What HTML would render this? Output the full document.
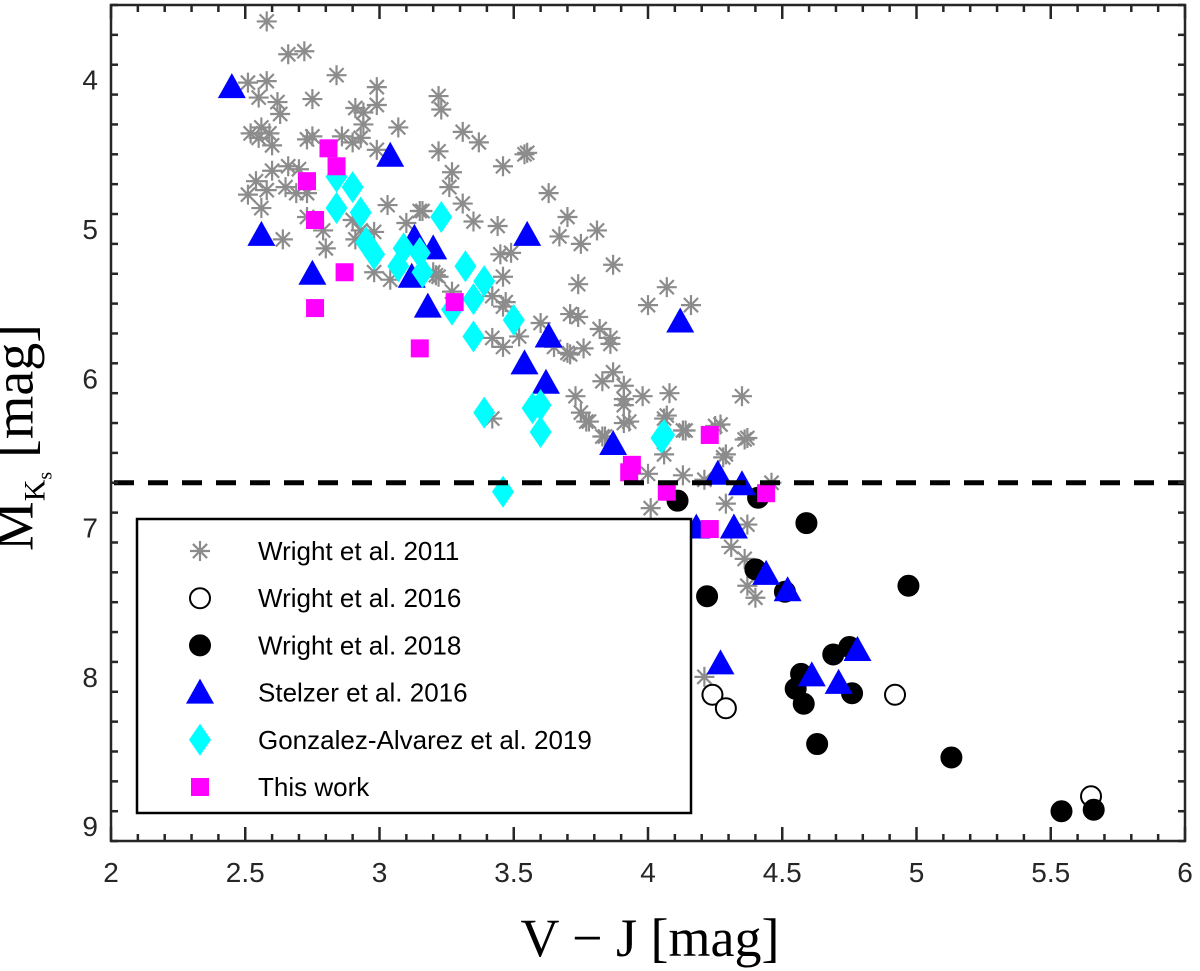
<!DOCTYPE html>
<html><head><meta charset="utf-8"><style>
html,body{margin:0;padding:0;background:#fff;}
svg{display:block;font-family:"Liberation Sans",sans-serif;}
</style></head><body>
<svg id="chart" width="1200" height="971" viewBox="0 0 1200 971">
<g id="marks"></g>
<g id="axes"></g>
</svg>
<script>
// ---- data ----
const w2011X=[2.58,2.66,2.72,2.51,2.58,2.84,2.55,2.62,2.75,2.63,2.99,2.99,3.22,2.91,2.94,2.94,3.07,2.52,2.56,2.55,2.59,2.60,2.75,2.73,2.86,2.90,2.93,2.99,3.31,3.37,3.22,3.54,2.66,2.70,2.60,3.27,3.26,2.54,2.58,2.51,2.65,2.69,2.73,2.56,3.03,3.16,3.10,3.35,3.44,2.73,2.79,2.64,2.90,2.93,2.98,2.80,2.91,3.04,2.98,3.20,3.45,3.49,3.47,3.23,3.46,3.55,3.63,3.31,3.70,3.67,3.75,3.81,3.87,3.74,4.07,4.00,4.16,3.46,3.71,3.74,3.82,3.86,3.86,3.76,3.71,3.60,3.52,3.42,3.46,3.22,3.83,3.87,3.91,3.91,3.98,4.08,4.35,3.73,3.75,3.78,3.93,4.07,4.14,4.27,4.37,4.29,3.84,3.42,3.15,3.21,3.27,3.42,3.46,3.70,3.65,3.91,4.06,4.13,4.36,4.28,4.25,3.77,3.83,4.06,4.00,4.13,4.21,4.46,4.01,4.29,4.37,4.31,4.36,4.37,4.40,4.21,3.91];
const w2011Y=[3.61,3.83,3.81,4.02,4.01,3.97,4.12,4.15,4.13,4.23,4.05,4.17,4.11,4.19,4.22,4.30,4.32,4.36,4.32,4.39,4.36,4.44,4.38,4.40,4.38,4.42,4.39,4.47,4.35,4.42,4.48,4.50,4.58,4.60,4.61,4.62,4.72,4.68,4.74,4.77,4.72,4.76,4.76,4.86,4.84,4.88,4.96,4.95,4.98,4.92,5.01,5.07,4.94,5.01,5.02,5.13,5.07,5.34,5.29,5.29,5.17,5.16,5.49,4.20,4.58,4.49,4.76,4.83,4.92,5.05,5.10,5.01,5.24,5.37,5.39,5.51,5.51,5.32,5.57,5.59,5.67,5.73,5.77,5.80,5.84,5.63,5.72,5.73,5.79,5.32,6.02,5.96,6.05,6.14,6.12,6.10,6.12,6.12,6.23,6.29,6.29,6.25,6.35,6.31,6.40,6.51,6.39,6.27,4.88,5.31,5.42,5.45,5.52,5.83,5.79,6.30,6.27,6.35,6.41,6.53,6.32,6.29,6.39,6.51,6.64,6.65,6.68,6.70,6.87,6.84,6.98,7.13,7.21,7.39,7.47,8.00,6.18];
const w2016X=[4.24,4.29,4.92,5.65];
const w2016Y=[8.12,8.21,8.12,8.80];
const w2018X=[4.11,4.41,4.59,4.40,4.22,4.51,4.97,4.69,4.75,4.57,4.55,4.58,4.76,4.63,5.13,5.54,5.66];
const w2018Y=[6.82,6.80,6.97,7.28,7.46,7.43,7.39,7.85,7.80,7.98,8.08,8.18,8.11,8.45,8.54,8.90,8.89];
const stX=[2.45,3.04,2.56,2.75,3.13,3.20,3.12,3.18,3.55,3.63,3.54,3.62,4.12,3.87,4.26,4.35,4.18,4.32,4.44,4.52,4.27,4.61,4.71,4.78];
const stY=[4.05,4.51,5.04,5.30,5.06,5.13,5.32,5.52,5.04,5.72,5.90,6.03,5.62,6.44,6.64,6.71,7.00,7.00,7.31,7.42,7.91,7.99,8.04,7.82];
const gaX=[2.84,2.90,2.84,2.93,2.95,2.98,3.09,3.07,3.23,3.32,3.39,3.35,3.50,3.27,3.35,3.39,3.57,3.60,3.60,4.06,3.46,3.16,3.15,4.05];
const gaY=[4.65,4.72,4.86,4.89,5.09,5.17,5.13,5.25,4.92,5.25,5.35,5.47,5.61,5.54,5.72,6.23,6.20,6.18,6.36,6.38,6.76,5.29,5.16,6.40];
const twX=[2.81,2.84,2.73,2.76,2.87,2.76,3.28,3.15,4.23,3.94,3.93,4.07,4.44,4.23];
const twY=[4.46,4.58,4.68,4.94,5.29,5.53,5.49,5.80,6.38,6.58,6.63,6.76,6.77,7.01];
const xTicks=[2,2.5,3,3.5,4,4.5,5,5.5,6];
const xTickLabels=["2","2.5","3","3.5","4","4.5","5","5.5","6"];
const yTicks=[4,5,6,7,8,9];
const yTickLabels=["4","5","6","7","8","9"];
const cutoff=6.70;
const legendLabels=["Wright et al. 2011","Wright et al. 2016","Wright et al. 2018","Stelzer et al. 2016","Gonzalez-Alvarez et al. 2019","This work"];

const L=111,R=1185,T=5,B=841;
const sx=v=>L+(v-2)*(R-L)/4;
const sy=v=>T+(v-3.5)*149.3;
const NS="http://www.w3.org/2000/svg";
function mk(tag,attrs,parent){const e=document.createElementNS(NS,tag);for(const k in attrs)e.setAttribute(k,attrs[k]);parent.appendChild(e);return e;}
const marks=document.getElementById('marks'),axes=document.getElementById('axes');

function star(g,cx,cy){const s=mk('g',{stroke:'#8c8c8c','stroke-width':2.2},g);const r=10;
 for(let a=0;a<4;a++){const t=a*Math.PI/4;mk('line',{x1:cx-r*Math.cos(t),y1:cy-r*Math.sin(t),x2:cx+r*Math.cos(t),y2:cy+r*Math.sin(t)},s);}return s;}
function circ(g,cx,cy,fill){return mk('circle',{cx,cy,r:10,fill:fill,stroke:'#000','stroke-width':2},g);}
function tri(g,cx,cy){return mk('polygon',{points:`${cx},${cy-14} ${cx-14},${cy+11} ${cx+14},${cy+11}`,fill:'#0000ff'},g);}
function dia(g,cx,cy){return mk('polygon',{points:`${cx},${cy-16} ${cx+11},${cy} ${cx},${cy+16} ${cx-11},${cy}`,fill:'#00ffff'},g);}
function sq(g,cx,cy){return mk('rect',{x:cx-9,y:cy-9,width:18,height:18,fill:'#ff00ff'},g);}

const gS=mk('g',{},marks);


w2011X.forEach((v,i)=>{const e=star(gS,sx(v),sy(w2011Y[i]));

});
const gO=mk('g',{},marks);


w2016X.forEach((v,i)=>{const e=circ(gO,sx(v),sy(w2016Y[i]),'#fff');

});
const gB=mk('g',{},marks);


w2018X.forEach((v,i)=>{const e=circ(gB,sx(v),sy(w2018Y[i]),'#000');

});
const gT=mk('g',{},marks);


stX.forEach((v,i)=>{const e=tri(gT,sx(v),sy(stY[i]));

});
const gD=mk('g',{},marks);


gaX.forEach((v,i)=>{const e=dia(gD,sx(v),sy(gaY[i]));

});
const gQ=mk('g',{},marks);


twX.forEach((v,i)=>{const e=sq(gQ,sx(v),sy(twY[i]));

});

const cl=mk('line',{x1:L+3,x2:R,y1:sy(cutoff),y2:sy(cutoff),stroke:'#000','stroke-width':5,'stroke-dasharray':'20 14'},marks);



// frame
const fr=mk('rect',{x:L,y:T,width:R-L,height:B-T,fill:'none',stroke:'#262626','stroke-width':2.5},axes);


const tk=mk('g',{stroke:'#262626','stroke-width':2.5},axes);
for(let i=0;i<=40;i++){const v=2+i*0.1,x=sx(v),len=(i%5===0)?14:7;
 mk('line',{x1:x,x2:x,y1:B,y2:B-len},tk);mk('line',{x1:x,x2:x,y1:T,y2:T+len},tk);}
for(let i=0;i<=28;i++){const v=3.5+i*0.2;const y=sy(v);const major=Math.abs(v-Math.round(v))<1e-6;const len=major?14:7;
 mk('line',{x1:L,x2:L+len,y1:y,y2:y},tk);mk('line',{x1:R,x2:R-len,y1:y,y2:y},tk);}
xTicks.forEach((v,i)=>{const t=mk('text',{x:sx(v),y:882,'font-size':28,'text-anchor':'middle',fill:'#262626'},axes);t.textContent=xTickLabels[i];

});
yTicks.forEach((v,i)=>{const t=mk('text',{x:98,y:sy(v)+10,'font-size':28,'text-anchor':'end',fill:'#262626'},axes);t.textContent=yTickLabels[i];

});

// legend
const lg=mk('g',{},axes);


mk('rect',{x:137,y:519,width:554,height:294,fill:'#fff',stroke:'#000','stroke-width':2.5},lg);
const fns=[(g,x,y)=>star(g,x,y),(g,x,y)=>circ(g,x,y,'#fff'),(g,x,y)=>circ(g,x,y,'#000'),(g,x,y)=>tri(g,x,y),(g,x,y)=>dia(g,x,y),(g,x,y)=>sq(g,x,y)];
legendLabels.forEach((lab,i)=>{const y=551+i*47.2;const eg=mk('g',{},lg);


fns[i](eg,200,y);
const t=mk('text',{x:258,y:y+9,'font-size':26,fill:'#000'},eg);t.textContent=lab;});
</script>
<div style="position:absolute;left:400px;top:906px;width:500px;text-align:center;font-family:'Liberation Serif',serif;font-size:54px;line-height:64px;color:#000">V − J [mag]</div>
<div style="position:absolute;left:-140px;top:390px;width:340px;text-align:center;transform:rotate(-90deg);font-family:'Liberation Serif',serif;font-size:56px;line-height:64px;color:#000">M<sub style="font-size:30px">K<sub style="font-size:20px">s</sub></sub> [mag]</div>
</body></html>
